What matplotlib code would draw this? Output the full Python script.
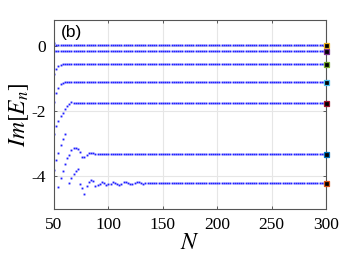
import numpy as np
import matplotlib
matplotlib.use('Agg')
import matplotlib.pyplot as plt

# N values (every second N)
N = np.arange(50, 301, 2)

# early (transient) values of each eigenvalue track, starting at N=50,
# then the converged value for the rest
trans1 = [0.08, 0.04]
flat1 = 0.02
trans2 = [-0.14, -0.16]
flat2 = -0.16
trans3 = [-0.86, -0.71, -0.62, -0.58, -0.55]
flat3 = -0.54
trans4 = [-1.71, -1.43, -1.30, -1.17, -1.12, -1.10]
flat4 = -1.10
trans5 = [-2.71, -2.45, -2.30, -2.16, -2.04, -1.92, -1.84, -1.77, -1.73]
flat5 = -1.74
trans6 = [np.nan, -3.50, -3.27, -3.04, -2.86, -2.71, -3.45, -3.34, -3.20, -3.14,
          -3.14, -3.17, -3.25, -3.40, -3.39, -3.34, -3.29, -3.28, -3.29, -3.31]
flat6 = -3.31
trans7 = [-3.81, np.nan, -4.32, -4.04, -3.84, -3.61, np.nan, -4.20, -4.04, -3.94,
          -3.84, -3.78, -4.22, -4.35, -4.55, -4.30, -4.17, -4.11, -4.14, -4.28,
          -4.25, -4.22, -4.17, -4.19, -4.25, -4.24, -4.22, -4.17, -4.20, -4.23,
          -4.25, -4.22, -4.18, -4.17, -4.20, -4.23, -4.23, -4.20, -4.18, -4.18,
          -4.21, -4.22, -4.21, -4.19, -4.19, -4.20, -4.21, -4.21, -4.20, -4.19,
          -4.20]
flat7 = -4.20

tracks = [(trans1, flat1), (trans2, flat2), (trans3, flat3), (trans4, flat4),
          (trans5, flat5), (trans6, flat6), (trans7, flat7)]
end_colors = ['#EDB120', '#7E2F8E', '#77AC30', '#4DBEEE', '#A2142F', '#0072BD', '#D95319']

plt.rcParams['font.family'] = 'Liberation Serif'
plt.rcParams['mathtext.fontset'] = 'stix'

fig = plt.figure(figsize=(3.6, 2.7), dpi=100)
ax = fig.add_axes([0.15, 0.226, 0.756, 0.70])

for (tr, fl), c in zip(tracks, end_colors):
    y = np.array(list(tr) + [fl] * (len(N) - len(tr)))
    ax.plot(N, y, ls='none', marker='s', ms=1.35, mew=0, color='#2020ff')
    ax.plot(N[-1], y[-1], ls='none', marker='s', ms=3.6, mfc='black', mec=c, mew=0.9,
            clip_on=False, zorder=5)

ax.set_xlim(50, 300)
ax.set_ylim(-5, 0.8)
ax.set_xticks([50, 100, 150, 200, 250, 300])
ax.set_yticks([0, -2, -4])
ax.set_yticklabels(['0', '-2', '-4'])
ax.grid(True, color='#e6e6e6', lw=0.8)
ax.set_axisbelow(True)
ax.tick_params(direction='in', top=True, right=True, length=2.5, width=0.6,
               color='#444444', labelsize=12.5)
ax.tick_params(axis='x', pad=6)
ax.tick_params(axis='y', pad=6)
for s in ax.spines.values():
    s.set_color('#555555')
    s.set_linewidth(0.8)

ax.set_xlabel('$N$', fontsize=17, labelpad=0)
ax.set_ylabel('$Im[E_n]$', fontsize=17, labelpad=0)
ax.text(0.025, 0.975, '(b)', transform=ax.transAxes, ha='left', va='top',
        fontsize=12.5, family='Liberation Sans')

fig.savefig('out.png', dpi=100)
